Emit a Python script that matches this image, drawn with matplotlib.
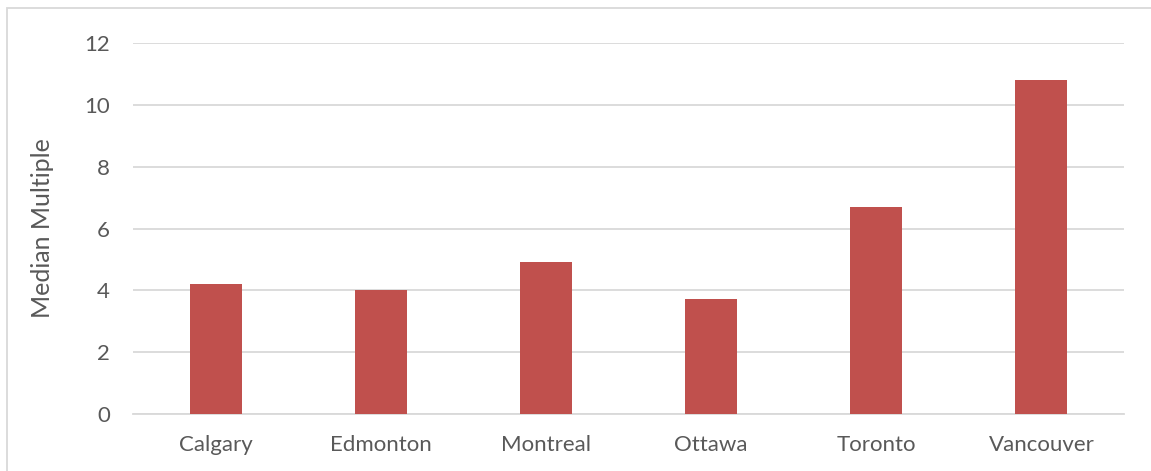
import matplotlib
matplotlib.use('Agg')
import matplotlib.pyplot as plt
from matplotlib.patches import Rectangle

# Median multiple by city
cities = ['Calgary', 'Edmonton', 'Montreal', 'Ottawa', 'Toronto', 'Vancouver']
multiples = [4.2, 4.0, 4.9, 3.7, 6.7, 10.8]
yticks = [0, 2, 4, 6, 8, 10, 12]

plt.rcParams['font.family'] = ['Lato', 'DejaVu Sans']
text_color = '#595959'
grid_color = '#D9D9D9'

W, H = 1151, 471
fig = plt.figure(figsize=(W / 100, H / 100), dpi=100)
ax = fig.add_axes([133 / W, 1 - 413.7 / H, (1124 - 133) / W, (413.7 - 43.3) / H])

x = range(len(cities))
ax.bar(x, multiples, width=0.315, color='#C0504D', zorder=3)

ax.set_xlim(-0.5, len(cities) - 0.5)
ax.set_ylim(0, 12)
ax.set_yticks(yticks)
ax.set_xticks(list(x))
ax.set_xticklabels(cities)
ax.yaxis.grid(True, color=grid_color, linewidth=1.3, zorder=0)
ax.set_axisbelow(True)

for side in ['top', 'right', 'left']:
    ax.spines[side].set_visible(False)
ax.spines['bottom'].set_color(grid_color)
ax.spines['bottom'].set_linewidth(1.3)

ax.tick_params(axis='both', length=0, labelsize=16, colors=text_color)
ax.tick_params(axis='y', pad=16.5)
ax.tick_params(axis='x', pad=15)
ax.set_ylabel('Median Multiple', fontsize=18, color=text_color, labelpad=22)

# outer chart frame (cut off at right and bottom)
fig.patches.append(Rectangle((7 / W, -0.1), 1.2, 1 - 8 / H + 0.1, transform=fig.transFigure,
                             fill=False, edgecolor='#D9D9D9', linewidth=1.3))

fig.savefig('out.png', dpi=100)
